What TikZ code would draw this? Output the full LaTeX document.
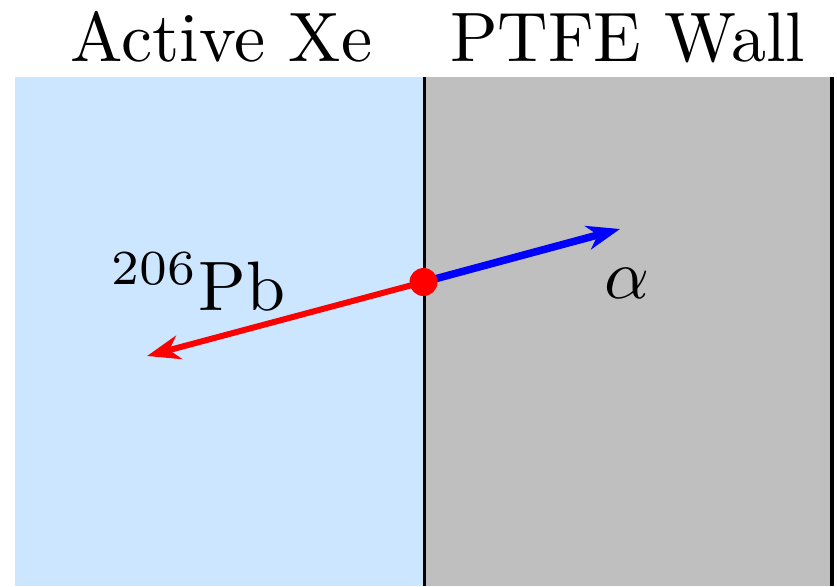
\documentclass[tikz,border=0pt]{standalone}
\usetikzlibrary{arrows.meta}
\definecolor{xeblue}{RGB}{204,230,255}
\definecolor{ptfegray}{RGB}{191,191,191}
\begin{document}
\begin{tikzpicture}[x=1pt,y=-1pt,
  lbl/.style={scale=7,inner sep=0pt,anchor=base},
  tipstyle/.style={-{Stealth[length=33pt,width=24pt,inset=10pt]}}]
\useasboundingbox (0,0) rectangle (837,586);
\fill[xeblue] (15,77) rectangle (424,586);
\fill[ptfegray] (424,77) rectangle (832,586);
\draw[line width=3pt] (424,77) -- (424,586);
\draw[line width=3.5pt] (832,77) -- (832,586);
\node[lbl] (xe) at (221.5,61) {Active Xe};
\node[lbl] (wall) at (627.5,61) {PTFE Wall};
\coordinate (o) at (423.5,282);
\coordinate (a) at (620,229);
\coordinate (p) at (147,356);
\draw[red,line width=6pt,tipstyle] (o) -- (p);
\draw[blue,line width=7.5pt,tipstyle] (o) -- (a);
\fill[red] (o) circle (14);
\node[lbl] (pb) at (198.5,310) {$^{206}$Pb};
\node[lbl] (al) at (627,298) {$\alpha$};
\end{tikzpicture}
\end{document}
